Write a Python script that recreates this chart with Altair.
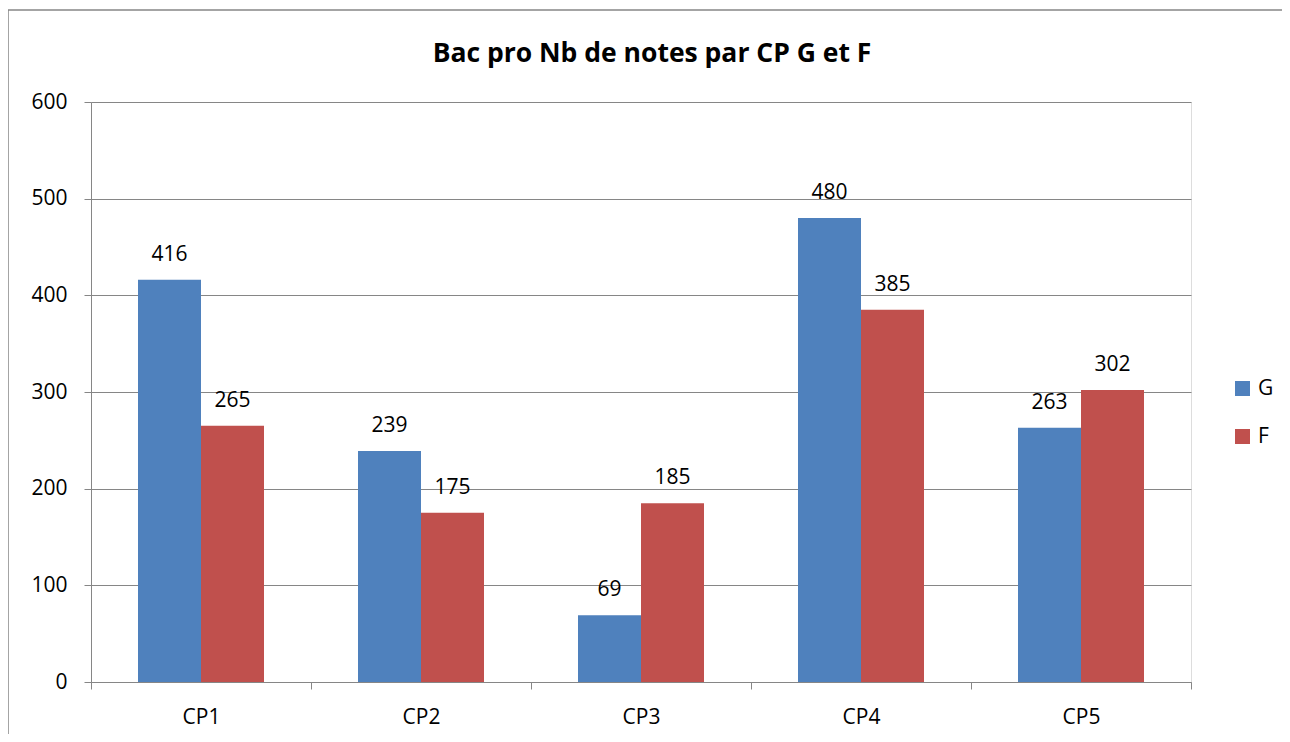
import altair as alt
import pandas as pd

categories = ["CP1", "CP2", "CP3", "CP4", "CP5"]
series_g = [416, 239, 69, 480, 263]
series_f = [265, 175, 185, 385, 302]
series_names = ["G", "F"]
colors = ["#4F81BD", "#C0504D"]
y_ticks = [0, 100, 200, 300, 400, 500, 600]
title_text = ["Bac pro Nb de notes par CP G et F"]

rows = []
for i, c in enumerate(categories):
    rows.append({"cat": c, "serie": "G", "val": series_g[i]})
    rows.append({"cat": c, "serie": "F", "val": series_f[i]})
df = pd.DataFrame(rows)

FONT = "Open Sans"
GRID = "#868686"

x_enc = alt.X("cat:N", sort=categories,
              scale=alt.Scale(paddingInner=0, paddingOuter=0),
              axis=alt.Axis(title=None, labelAngle=0, tickBand="extent",
                            labelFontSize=21, labelFont=FONT, labelColor="#000000",
                            labelFontWeight="normal",
                            labelPadding=17, tickSize=7, tickColor=GRID,
                            domainColor=GRID, grid=False))
xoff = alt.XOffset("serie:N", sort=series_names,
                   scale=alt.Scale(paddingInner=0, paddingOuter=0.746))
y_enc = alt.Y("val:Q", scale=alt.Scale(domain=[0, 600], nice=False),
              axis=alt.Axis(title=None, values=y_ticks, labelFontSize=21,
                            labelFont=FONT, labelColor="#000000", labelPadding=17,
                            labelFontWeight="normal",
                            tickSize=7, tickColor=GRID, domainColor=GRID,
                            gridColor=GRID, gridWidth=1))
color = alt.Color("serie:N", sort=series_names,
                  scale=alt.Scale(domain=series_names, range=colors),
                  legend=alt.Legend(title=None, orient="none", legendX=1141, legendY=276,
                                    symbolType="square", symbolSize=225,
                                    symbolStrokeWidth=0, labelFontSize=21,
                                    labelFont=FONT, labelColor="#000000",
                                    rowPadding=26, labelOffset=5))

base = alt.Chart(df)

bars = base.mark_bar(stroke=None).encode(x=x_enc, xOffset=xoff, y=y_enc, color=color)
labels = base.mark_text(baseline="alphabetic", dy=-19, fontSize=21, font=FONT,
                        color="#000000").encode(
    x=alt.X("cat:N", sort=categories), xOffset=xoff, y="val:Q", text="val:Q")

frame = alt.Chart(pd.DataFrame({"k": [0]}))
border_left = frame.mark_rule(stroke=GRID, strokeWidth=1.5).encode(
    x=alt.value(-83), x2=alt.value(-83), y=alt.value(-92), y2=alt.value(632))
border_top = frame.mark_rule(stroke=GRID, strokeWidth=1.5).encode(
    x=alt.value(-83), x2=alt.value(1400), y=alt.value(-92), y2=alt.value(-92))

title = alt.Chart(pd.DataFrame({"t": title_text})).mark_text(
    fontSize=26.5, font=FONT, fontWeight="bold", color="#000000",
    align="center", baseline="alphabetic").encode(
    x=alt.value(561), y=alt.value(-40), text="t:N")

chart = alt.layer(border_left, border_top, title, bars, labels).properties(
    width=1100, height=580,
    padding={"left": 83, "top": 94, "right": 91, "bottom": 52},
    autosize="none",
).configure_view(stroke=None).configure(background="white")

chart.save("out.html", embed_options={"renderer": "svg", "actions": False})
